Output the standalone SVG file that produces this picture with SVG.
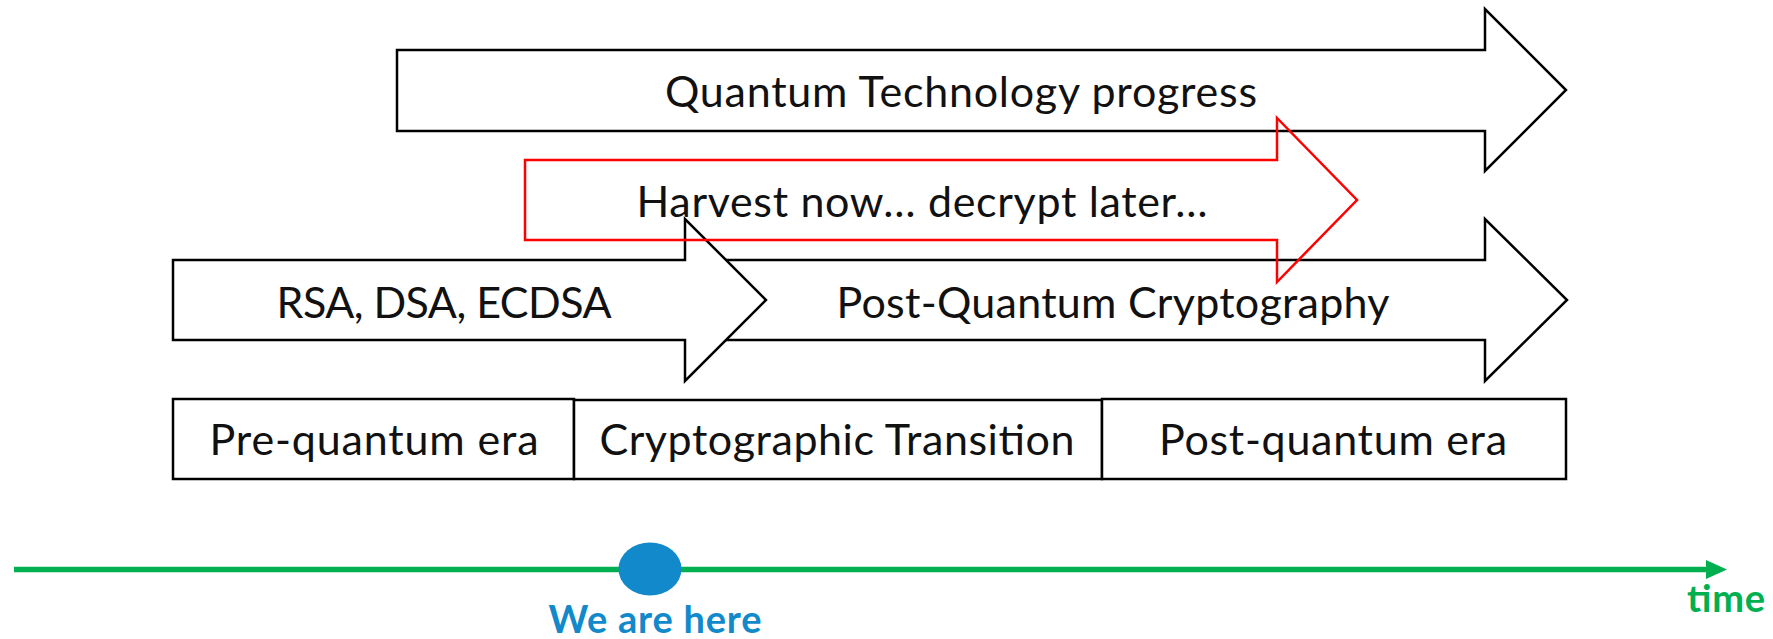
<svg xmlns="http://www.w3.org/2000/svg" width="1773" height="639" viewBox="0 0 1773 639">
<style>
.arrow{fill:#fff;stroke:#000;stroke-width:2.5;stroke-linejoin:miter}
.red{fill:none;stroke:#ff0000;stroke-width:2.5}
.box{fill:#fff;stroke:#000;stroke-width:2.5}
.t{font-family:Lato,"Open Sans","Liberation Sans",sans-serif;font-size:43px;fill:#111;text-anchor:middle}
.b{font-family:Lato,"Open Sans","Liberation Sans",sans-serif;font-weight:bold;font-size:38px;text-anchor:middle}
</style>
<rect width="1773" height="639" fill="#fff"/>
<g id="pq-arrow">
<path class="arrow" d="M700,260 H1485 V219 L1567,300 L1485,381 V340 H700 Z"/>
<text class="t" x="1113" y="318" textLength="553">Post-Quantum Cryptography</text>
</g>
<g id="rsa-arrow">
<path class="arrow" d="M173,260 H685 V219 L766,300 L685,381 V340 H173 Z"/>
<text class="t" x="444" y="318" textLength="335">RSA, DSA, ECDSA</text>
</g>
<g id="quantum-arrow">
<path class="arrow" d="M397,50 H1485 V9 L1566,90 L1485,171 V131 H397 Z"/>
<text class="t" x="961" y="107" textLength="592">Quantum Technology progress</text>
</g>
<g id="harvest-arrow">
<path class="red" d="M525,160 H1277 V118 L1357,200 L1277,282 V240 H525 Z"/>
<text class="t" x="922" y="217" textLength="571">Harvest now… decrypt later…</text>
</g>
<g id="pre-quantum">
<rect class="box" x="173" y="399" width="401" height="80"/>
<text class="t" x="374" y="455" textLength="329">Pre-quantum era</text>
</g>
<g id="transition">
<rect class="box" x="574" y="400" width="528" height="79"/>
<text class="t" x="837" y="455" textLength="475">Cryptographic Transition</text>
</g>
<g id="post-quantum">
<rect class="box" x="1102" y="399" width="464" height="80"/>
<text class="t" x="1333" y="455" textLength="348">Post-quantum era</text>
</g>
<g id="connectors">
<line x1="14" y1="569.5" x2="1708" y2="569.5" stroke="#00b050" stroke-width="5.5"/>
<polygon points="1706,560 1727,569.5 1706,579" fill="#00b050"/>
</g>
<g id="time-label">
<text class="b" x="1726" y="612" fill="#00b050" textLength="78">time</text>
</g>
<g id="we-are-here">
<ellipse cx="650" cy="569" rx="31.5" ry="26.5" fill="#1289ca"/>
<text class="b" x="655" y="633" fill="#1289ca" textLength="213">We are here</text>
</g>
</svg>
